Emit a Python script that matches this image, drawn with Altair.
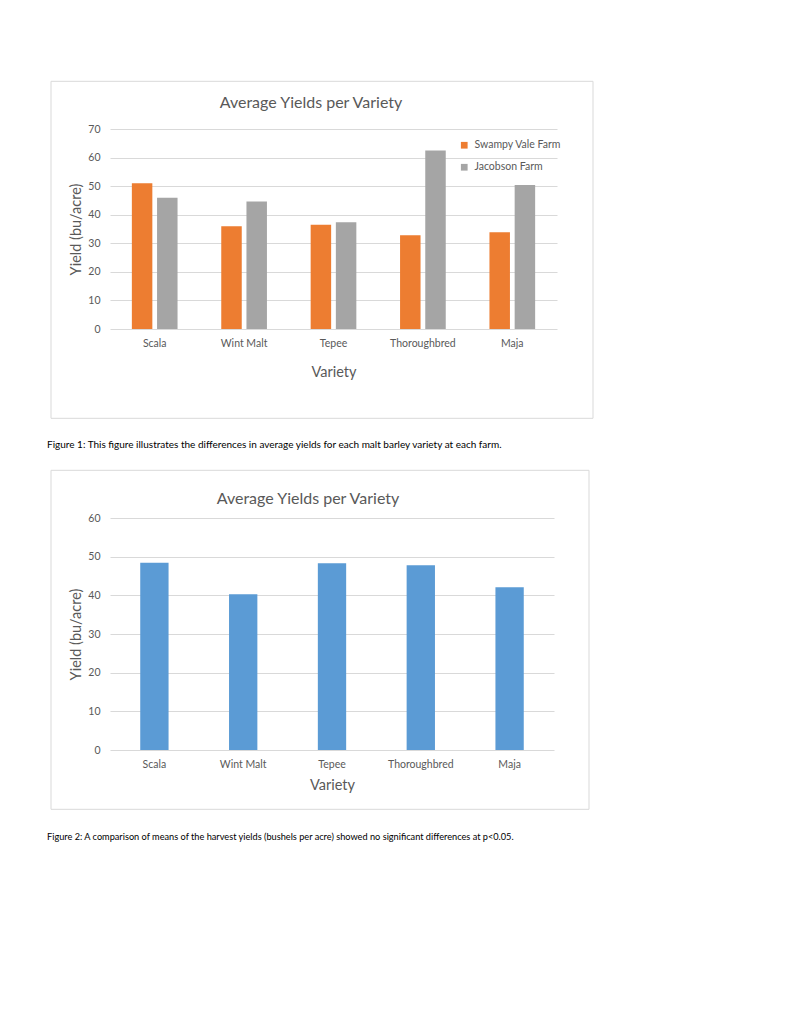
import altair as alt
import pandas as pd

# ---------------- data ----------------
varieties = ["Scala", "Wint Malt", "Tepee", "Thoroughbred", "Maja"]
farms = ["Swampy Vale Farm", "Jacobson Farm"]
swampy_vale = [51.0, 36.0, 36.5, 32.8, 33.9]
jacobson = [45.9, 44.6, 37.4, 62.5, 50.4]
overall_mean = [48.4, 40.3, 48.3, 47.8, 42.1]
y_ticks_1 = [0, 10, 20, 30, 40, 50, 60, 70]
y_ticks_2 = [0, 10, 20, 30, 40, 50, 60]

chart_title = "Average Yields per Variety"
x_title = "Variety"
y_title = "Yield (bu/acre)"
caption1 = "Figure 1: This figure illustrates the differences in average yields for each malt barley variety at each farm."
caption2 = "Figure 2: A comparison of means of the harvest yields (bushels per acre) showed no significant differences at p<0.05."

FONT = "Lato"
CAP_FONT = "Lato"
GRID = "#D9D9D9"
TXT = "#595959"

df1 = pd.DataFrame({
    "Variety": varieties * 2,
    "Farm": [farms[0]] * len(varieties) + [farms[1]] * len(varieties),
    "Yield": swampy_vale + jacobson,
})
df2 = pd.DataFrame({"Variety": varieties, "Yield": overall_mean})


def text_layer(s, x, y, size, color, align="center", font=FONT):
    return alt.Chart(pd.DataFrame({"t": [s]})).mark_text(
        align=align, baseline="middle", fontSize=size, color=color, font=font
    ).encode(x=alt.value(x), y=alt.value(y), text="t:N")


def box_layer(x1, x2, y1, y2):
    return alt.Chart(pd.DataFrame({"a": [0]})).mark_rect(
        fillOpacity=0, stroke=GRID, strokeWidth=1
    ).encode(x=alt.value(x1), x2=alt.value(x2), y=alt.value(y1), y2=alt.value(y2))


def x_axis(title_pad):
    return alt.Axis(title=x_title, labelAngle=0, ticks=False, domain=False,
                    labelPadding=9, titlePadding=title_pad, grid=False)


def y_axis(vals):
    return alt.Axis(values=vals, title=y_title, ticks=False, domain=False,
                    labelPadding=10, titlePadding=4, grid=True, gridColor=GRID)


# ---------------- chart 1 ----------------
W1, H1 = 447, 200
bars1 = alt.Chart(df1).mark_bar().encode(
    x=alt.X("Variety:N", sort=varieties,
            scale=alt.Scale(paddingInner=0.489, paddingOuter=0.2445),
            axis=x_axis(17)),
    xOffset=alt.XOffset("Farm:N", sort=farms,
                        scale=alt.Scale(paddingInner=0.187, paddingOuter=0)),
    y=alt.Y("Yield:Q", scale=alt.Scale(domain=[0, 70]), axis=y_axis(y_ticks_1)),
    color=alt.Color("Farm:N", sort=farms,
                    scale=alt.Scale(domain=farms, range=["#ED7D31", "#A5A5A5"]),
                    legend=alt.Legend(orient="none", legendX=349, legendY=11,
                                      title=None, symbolType="square", symbolSize=45,
                                      symbolStrokeWidth=0, labelFontSize=10.5,
                                      labelColor=TXT, labelFont=FONT,
                                      rowPadding=11, labelOffset=5)),
)
c1 = alt.layer(
    box_layer(-59, 483, -47.7, 289.3),
    bars1,
    text_layer(chart_title, 201, -25.7, 16, TXT),
    text_layer(caption1, -63, 316.3, 10, "#000000", align="left", font=CAP_FONT),
).properties(width=W1, height=H1)

# ---------------- chart 2 ----------------
W2, H2 = 444, 232
bars2 = alt.Chart(df2).mark_bar(color="#5B9BD5").encode(
    x=alt.X("Variety:N", sort=varieties,
            scale=alt.Scale(paddingInner=0.681, paddingOuter=0.3405),
            axis=x_axis(9)),
    y=alt.Y("Yield:Q", scale=alt.Scale(domain=[0, 60]), axis=y_axis(y_ticks_2)),
)
c2 = alt.layer(
    box_layer(-59, 479, -47.7, 291.3),
    bars2,
    text_layer(chart_title, 198, -18.7, 16, TXT),
    text_layer(caption2, -63, 319.3, 9.2, "#000000", align="left", font=CAP_FONT),
).properties(width=W2, height=H2)

chart = alt.vconcat(c1, c2, spacing=18).properties(
    padding={"left": 39, "top": 72, "right": 5, "bottom": 5}
).configure_view(stroke=None).configure_axis(
    labelFont=FONT, labelFontSize=10.5, labelColor=TXT,
    titleFont=FONT, titleFontSize=14.5, titleColor=TXT, titleFontWeight="normal",
)

chart.save("out.html", embed_options={"renderer": "svg", "actions": False})
